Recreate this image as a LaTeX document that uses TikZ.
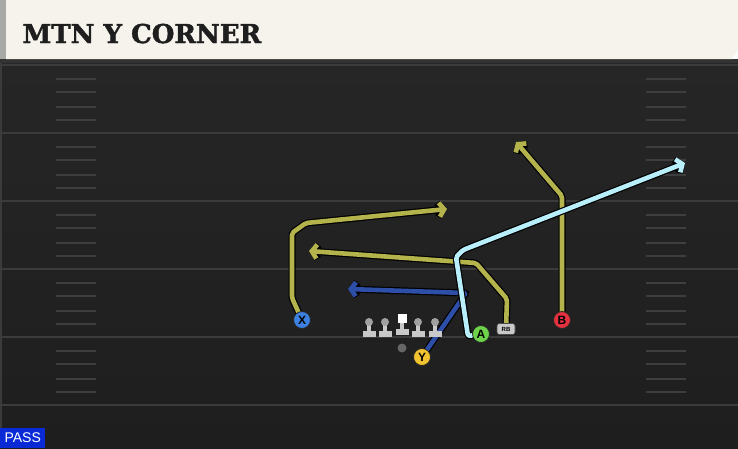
\documentclass[tikz,border=0pt]{standalone}
\usepackage{fontspec}
\setmainfont{DejaVu Serif}
\setsansfont{Liberation Sans}
\newfontfamily\titlefont[FakeBold=1.6]{DejaVu Serif}
\usetikzlibrary{arrows.meta}
\pgfdeclarelayer{background}
\pgfdeclarelayer{routes}
\pgfsetlayers{background,routes,main}
\definecolor{fieldtop}{HTML}{262626}
\definecolor{fieldbot}{HTML}{1E1E1E}
\definecolor{yard}{HTML}{3B3B3B}
\definecolor{hash}{HTML}{3E3E3E}
\definecolor{header}{HTML}{F5F3EC}
\definecolor{edge}{HTML}{A7A9A6}
\definecolor{titletext}{HTML}{1E1E1E}
\definecolor{olive}{HTML}{B4B34C}
\definecolor{skyline}{HTML}{B9EFFB}
\definecolor{navy}{HTML}{2E4FA8}
\definecolor{xblue}{HTML}{3C80E0}
\definecolor{ygold}{HTML}{F2C230}
\definecolor{agreen}{HTML}{6ED34A}
\definecolor{bred}{HTML}{E3323F}
\definecolor{passblue}{HTML}{0A2AD6}
\definecolor{linegray}{HTML}{C9C9C9}
\begin{document}
\begin{tikzpicture}
    [
    x=1pt, y=-1pt,
    yardline/.style={draw=yard, line width=1.6pt},
    hashmark/.style={draw=hash, line width=1.5pt},
    route/.style={line width=4.6pt, line join=round, rounded corners=2pt,
        preaction={draw=black, line width=7pt},
        -{Straight Barb[length=5pt,width=14pt]}},
    player/.style={circle, draw=black!85, line width=0.8pt, minimum size=17pt,
        inner sep=0pt, font=\sffamily\bfseries\fontsize{12}{12}\selectfont},
    head/.style={circle, fill=linegray!80!black, minimum size=8pt, inner sep=0pt},
    snap/.style={rectangle, fill=white, minimum size=9pt, inner sep=0pt},
    lineman/.style={fill=linegray}
    ]
    \useasboundingbox (0,0) rectangle (738,448);
    \begin{pgfonlayer}{background}
    \shade[top color=fieldtop, bottom color=fieldbot] (0,60) rectangle (738,448);
    \fill[yard] (0,60) rectangle (2,448);
    \foreach \yl in {65,133,201,269,337,405}
        \draw[yardline] (2,\yl) -- (738,\yl);
    \foreach \yl in {65,133,201,269,337}
        \foreach \dy in {14,27,42,55} {
            \draw[hashmark] (56,\yl+\dy) -- (96,\yl+\dy);
            \draw[hashmark] (646,\yl+\dy) -- (686,\yl+\dy);
        }
    \fill[black!80] (0,59) rectangle (738,63);
    \fill[header] (6,0) -- (738,0) -- (738,50) -- (732,59) -- (6,59) -- cycle;
    \fill[edge] (0,0) rectangle (6,59);
    \end{pgfonlayer}

    \node[anchor=base west, text=titletext, font=\titlefont\bfseries\fontsize{26}{26}\selectfont] (title) at (19,43) {MTN Y CORNER};
    \node[anchor=south west, fill=passblue, text=white, minimum width=45pt, minimum height=20pt,
        inner sep=0pt, font=\sffamily\fontsize{14}{14}\selectfont] (pass) at (0,448) {PASS};

    \foreach \lx/\nm in {369/lt,385/lg,418/rg,435/rt} {
        \fill[lineman] (\lx-2,324) rectangle (\lx+2,332);
        \fill[lineman] (\lx-6.5,331) rectangle (\lx+6.5,337);
        \node[head] (\nm) at (\lx,322) {};
    }
    \fill[lineman] (400,321) rectangle (404,330);
    \fill[lineman] (395.5,329) rectangle (408.5,335);
    \node[snap] (c) at (402,318) {};
    \node[circle, fill=gray!80!black, minimum size=9pt, inner sep=0pt] (qb) at (402,348) {};

    \node[player, fill=xblue] (X) at (302,320) {X};
    \node[player, fill=ygold] (Y) at (422,357) {Y};
    \node[player, fill=agreen] (A) at (481,334) {A};
    \node[player, fill=bred] (B) at (562,320) {B};
    \node[rectangle, rounded corners=2.5pt, fill=linegray, draw=black!70, line width=0.6pt,
        minimum width=18pt, minimum height=11pt, inner sep=0pt,
        font=\sffamily\bfseries\fontsize{6}{6}\selectfont] (rb) at (506,329) {RB};

    \coordinate (xend) at (447,209);
    \coordinate (rbend) at (309,251);
    \coordinate (aend) at (685,163);
    \coordinate (yend) at (348,289);
    \coordinate (bend) at (516,142);

    \begin{pgfonlayer}{routes}
    \draw[route, olive] (X.center) -- (292,298) -- (292,233) -- (306,223) -- (xend);
    \draw[route, olive] (rb.center) -- (507,299) -- (476,263) -- (rbend);
    \draw[route, olive] (B.center) -- (562,196) -- (bend);
    \draw[route, navy] (Y.center) -- (466,293) -- (yend);
    \draw[route, skyline] (A.center) -- (468,336) -- (456,257) -- (463,250) -- (aend);
    \end{pgfonlayer}
\end{tikzpicture}
\end{document}
